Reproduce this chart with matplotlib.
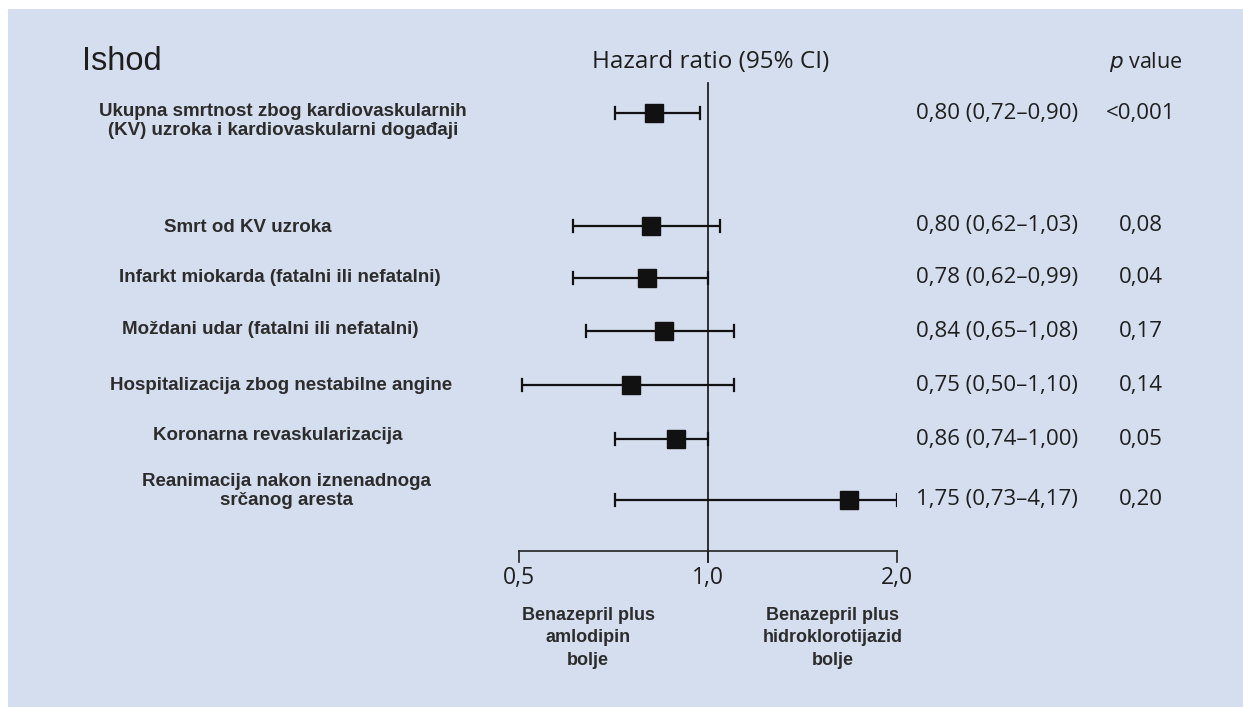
import matplotlib
matplotlib.use("Agg")
import matplotlib.pyplot as plt
from matplotlib.patches import Rectangle
import numpy as np

# ---------------- data ----------------
outcomes = [
    "Ukupna smrtnost zbog kardiovaskularnih\n(KV) uzroka i kardiovaskularni događaji",
    "Smrt od KV uzroka",
    "Infarkt miokarda (fatalni ili nefatalni)",
    "Moždani udar (fatalni ili nefatalni)",
    "Hospitalizacija zbog nestabilne angine",
    "Koronarna revaskularizacija",
    "Reanimacija nakon iznenadnoga\nsrčanog aresta",
]
# positions of the marks as drawn in the figure
hr_plot = [0.82, 0.81, 0.80, 0.85, 0.755, 0.89, 1.68]
lo_plot = [0.71, 0.61, 0.61, 0.64, 0.505, 0.71, 0.71]
hi_plot = [0.97, 1.045, 1.00, 1.10, 1.10, 1.00, 4.17]
hr_text = ["0,80 (0,72–0,90)", "0,80 (0,62–1,03)", "0,78 (0,62–0,99)",
           "0,84 (0,65–1,08)", "0,75 (0,50–1,10)", "0,86 (0,74–1,00)",
           "1,75 (0,73–4,17)"]
p_text = ["<0,001", "0,08", "0,04", "0,17", "0,14", "0,05", "0,20"]
xticks = [0.5, 1.0, 2.0]
xtick_labels = ["0,5", "1,0", "2,0"]

# ---------------- layout ----------------
W, H = 1243, 707
row_y = [113, 226, 278, 331, 385, 439, 500]
label_y = [121, 228, 277, 330, 386, 435, 491]
label_x = [283, 248, 280, 270, 281, 278, 286]
bg = "#d5deee"
txt = "#1e1e1e"
lbl = "#2c2c2c"
sans = "Liberation Sans"
hum = "Open Sans"

fig = plt.figure(figsize=(W / 100, H / 100), dpi=100)
fig.patch.set_facecolor("white")
fig.add_artist(Rectangle((8 / W, 0), 1 - 8 / W, 1 - 9 / H, transform=fig.transFigure,
                         facecolor=bg, edgecolor="none", zorder=0))

x0, x1 = 519, 897
ax = fig.add_axes([x0 / W, 0, (x1 - x0) / W, 1])
ax.set_xscale("log", base=2)
ax.set_xlim(0.5, 2.0)
ax.set_ylim(H, 0)
ax.axis("off")
ax.patch.set_alpha(0)

hi_clip = np.minimum(hi_plot, 2.0)
for y, h, lo, hi in zip(row_y, hr_plot, lo_plot, hi_clip):
    ax.plot([lo, hi], [y, y], color="#111111", lw=1.6, solid_capstyle="butt", zorder=3)
    ax.plot([lo, lo], [y - 6, y + 6], color="#111111", lw=1.6, zorder=3)
    ax.plot([hi, hi], [y - 6, y + 6], color="#111111", lw=1.6, zorder=3)
    ax.plot([h], [y], marker="s", ms=13, color="#111111", zorder=4)

# reference line and axis
ax.plot([1.0, 1.0], [83, 562], color="#111111", lw=1.2, zorder=2, clip_on=False)
ax.plot([0.5, 2.0], [551, 551], color="#222222", lw=1.2, zorder=2, clip_on=False)
for t, lab in zip(xticks, xtick_labels):
    ax.plot([t, t], [551, 562], color="#222222", lw=1.2, clip_on=False)
    ax.text(t, 578, lab, ha="center", va="center", fontsize=16.5, family=hum,
            color=txt, clip_on=False)

def ft(x, y, s, **kw):
    fig.text(x / W, 1 - y / H, s, **kw)

ft(82, 62, "Ishod", fontsize=23.5, family=sans, color=txt, ha="left", va="center")
ft(711, 62, "Hazard ratio (95% CI)", fontsize=17.5, family=hum, color=txt,
   ha="center", va="center")
ft(1146, 62, r"$\mathit{p}$ value", fontsize=15.5, family=hum, color=txt,
   ha="center", va="center")

for y, ly, lx, lab, ht, pt in zip(row_y, label_y, label_x, outcomes, hr_text, p_text):
    ft(lx, ly, lab, fontsize=13.5, family=sans, weight="bold", color=lbl,
       ha="center", va="center", linespacing=1.2)
    ft(997, y, ht, fontsize=16, family=hum, color=txt, ha="center", va="center")
    ft(1141, y, pt, fontsize=16, family=hum, color=txt, ha="center", va="center")

ft(588, 638, "Benazepril plus\namlodipin\nbolje", fontsize=13, family=sans,
   weight="bold", color=lbl, ha="center", va="center", linespacing=1.4)
ft(833, 638, "Benazepril plus\nhidroklorotijazid\nbolje", fontsize=13, family=sans,
   weight="bold", color=lbl, ha="center", va="center", linespacing=1.4)

fig.savefig("out.png", dpi=100, facecolor=fig.get_facecolor())
